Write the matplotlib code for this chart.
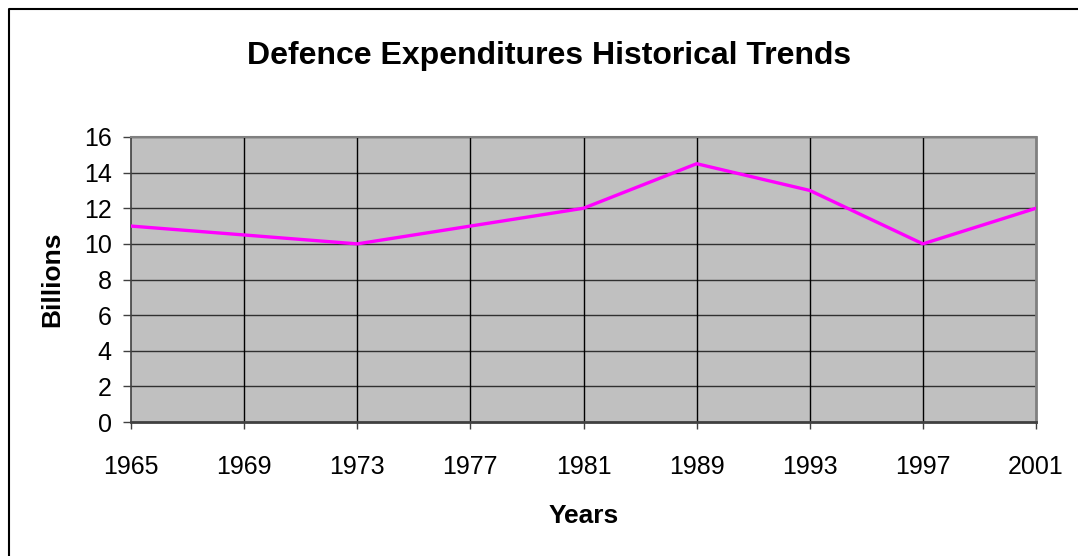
import matplotlib
matplotlib.use("Agg")
import matplotlib.pyplot as plt
from matplotlib.lines import Line2D

years = ["1965", "1969", "1973", "1977", "1981", "1989", "1993", "1997", "2001"]
billions = [11, 10.5, 10, 11, 12, 14.5, 13, 10, 12]
y_ticks = [0, 2, 4, 6, 8, 10, 12, 14, 16]

plt.rcParams['font.family'] = ['Liberation Sans', 'DejaVu Sans']

W, H = 1078, 556
fig = plt.figure(figsize=(W / 100, H / 100), dpi=100)
fig.patch.set_facecolor('white')

# plot area in pixel coords: x 131..1036, y 137..422
ax = fig.add_axes([131 / W, (H - 422) / H, (1036 - 131) / W, (422 - 137) / H])
ax.set_facecolor('#C0C0C0')

x = list(range(len(years)))
for yv in y_ticks[1:]:
    ax.axhline(yv, color='#303030', lw=1.0, zorder=1)
for xv in x[1:-1]:
    ax.axvline(xv, color='black', lw=1.0, zorder=1)

ax.plot(x, billions, color='#FF00FF', lw=2.4, zorder=3)

ax.set_xlim(0, len(years) - 1)
ax.set_ylim(0, 16)
ax.set_xticks(x, years)
ax.set_yticks(y_ticks)

ax.spines['top'].set_color('#808080')
ax.spines['right'].set_color('#808080')
ax.spines['right'].set_linewidth(2)
ax.spines['top'].set_linewidth(1.5)
ax.spines['left'].set_color('#404040')
ax.spines['bottom'].set_color('#404040')
ax.spines['bottom'].set_linewidth(2)
ax.spines['left'].set_linewidth(1.2)

ax.tick_params(axis='y', direction='out', length=6, width=1, color='#404040',
               labelsize=18, pad=8)
ax.tick_params(axis='x', direction='out', length=5, width=1, color='#404040',
               labelsize=18, pad=19)

ax.set_xlabel("Years", fontsize=19, fontweight='bold', labelpad=18)
ax.set_ylabel("Billions", fontsize=19, fontweight='bold', labelpad=14)

fig.text(549 / W, (H - 56) / H, "Defence Expenditures Historical Trends",
         ha='center', va='center', fontsize=23, fontweight='bold')

# outer chart frame (only top and left edges visible in the crop)
fig.add_artist(Line2D([8.5 / W, 8.5 / W, 1.0], [0.0, (H - 8.5) / H, (H - 8.5) / H],
                      transform=fig.transFigure, color='black', lw=1.5))

fig.savefig("out.png", dpi=100)
